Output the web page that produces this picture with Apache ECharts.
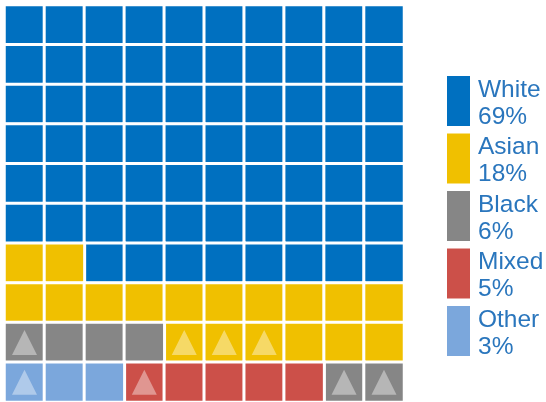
<!DOCTYPE html>
<html>
<head>
<meta charset="utf-8">
<style>
html, body { margin: 0; padding: 0; background: #fff; }
#main { width: 546px; height: 402px; }
</style>
<script src="https://cdn.jsdelivr.net/npm/echarts@6/dist/echarts.min.js"></script>
</head>
<body>
<div id="main"></div>
<script>
const groups = ['White', 'Asian', 'Black', 'Mixed', 'Other'];
const percents = ['69%', '18%', '6%', '5%', '3%'];
const colors = ['#0070c0', '#f0c000', '#868686', '#cc5049', '#7ba7dc'];

// one string per row, top to bottom, one letter per square (first letter of the group)
const rows = [
    'WWWWWWWWWW',
    'WWWWWWWWWW',
    'WWWWWWWWWW',
    'WWWWWWWWWW',
    'WWWWWWWWWW',
    'WWWWWWWWWW',
    'AAWWWWWWWW',
    'AAAAAAAAAA',
    'BBBBAAAAAA',
    'OOOMMMMMBB'
];

// squares carrying a triangle: [column, row]
const triangles = [[0, 8], [4, 8], [5, 8], [6, 8], [0, 9], [3, 9], [8, 9], [9, 9]];

const columns = ['0', '1', '2', '3', '4', '5', '6', '7', '8', '9'];
const rowNames = ['0', '1', '2', '3', '4', '5', '6', '7', '8', '9'];

const cellSeries = groups.map((name, i) => {
    let data = [];
    rows.forEach((row, y) => {
        row.split('').forEach((letter, x) => {
            if (letter === name[0]) data.push([x, y, 1]);
        });
    });
    return {
        name: name,
        type: 'heatmap',
        data: data,
        itemStyle: { color: colors[i], borderColor: '#fff', borderWidth: 3 },
        emphasis: { disabled: true }
    };
});

const legendFont = {
    fontFamily: 'Liberation Sans',
    fontSize: 24.5,
    color: '#2a76bd',
    verticalAlign: 'bottom'
};

const chart = echarts.init(document.getElementById('main'));
chart.setOption({
    animation: false,
    grid: { left: 4.5, top: 5, width: 399.5, height: 400 },
    xAxis: { type: 'category', data: columns, show: false },
    yAxis: { type: 'category', data: rowNames, inverse: true, show: false },
    legend: {
        orient: 'vertical',
        left: 445,
        top: 74,
        padding: 0,
        itemWidth: 25,
        itemHeight: 52,
        itemGap: 2,
        icon: 'rect',
        selectedMode: false,
        data: groups,
        formatter: name => '{head|' + name + '}\n{pct|' + percents[groups.indexOf(name)] + '}',
        textStyle: {
            fontFamily: 'Liberation Sans',
            fontSize: 24.5,
            color: '#2a76bd',
            padding: [0, 0, 0, 2],
            rich: {
                head: { ...legendFont, lineHeight: 30 },
                pct: { ...legendFont, lineHeight: 27 }
            }
        }
    },
    series: cellSeries.concat([{
        name: 'marks',
        type: 'scatter',
        symbol: 'triangle',
        symbolSize: [25, 25],
        data: triangles,
        itemStyle: { color: 'rgba(255,255,255,0.5)' },
        emphasis: { disabled: true },
        z: 5
    }])
});
</script>
</body>
</html>
